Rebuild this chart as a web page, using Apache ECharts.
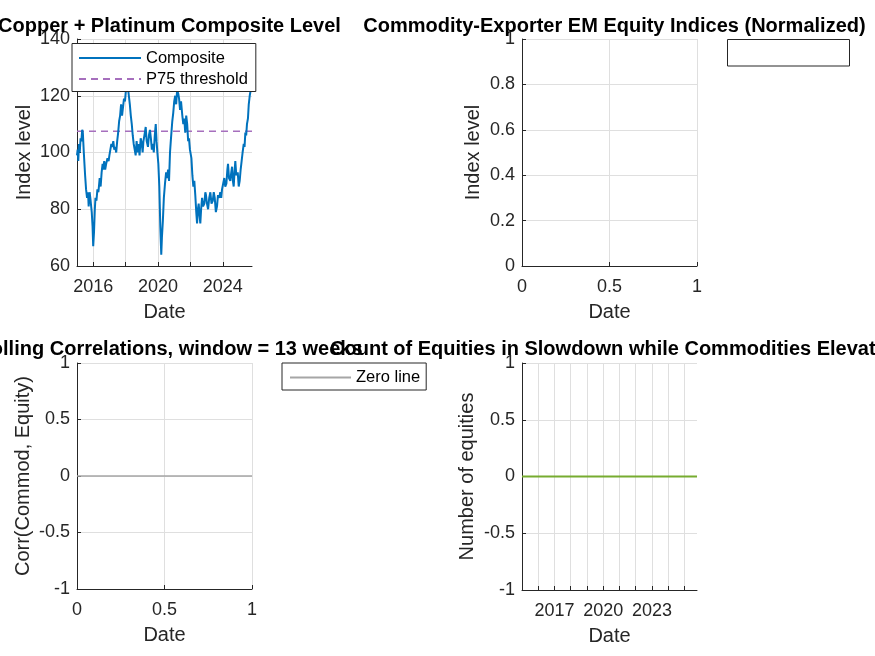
<!DOCTYPE html>
<html>
<head>
<meta charset="utf-8">
<script src="https://cdn.jsdelivr.net/npm/echarts@6.0.0/dist/echarts.min.js"></script>
<style>
  html, body { margin: 0; padding: 0; background: #fff; }
  #chart { width: 875px; height: 656px; }
</style>
</head>
<body>
<div id="chart"></div>
<script>
// composite level (decimal years)
const compYears = [
  2015.00, 2015.04, 2015.08, 2015.12, 2015.17, 2015.22, 2015.27, 2015.32, 2015.36, 2015.42,
  2015.50, 2015.56, 2015.62, 2015.68, 2015.72, 2015.78, 2015.84, 2015.91, 2015.96, 2016.00,
  2016.05, 2016.10, 2016.14, 2016.20, 2016.26, 2016.32, 2016.40, 2016.46, 2016.52, 2016.58,
  2016.62, 2016.68, 2016.74, 2016.80, 2016.88, 2016.95, 2017.00, 2017.06, 2017.12, 2017.18,
  2017.24, 2017.30, 2017.36, 2017.42, 2017.48, 2017.54, 2017.60, 2017.66, 2017.72, 2017.78,
  2017.84, 2017.90, 2017.96, 2018.02, 2018.08, 2018.14, 2018.20, 2018.26, 2018.32, 2018.38,
  2018.44, 2018.50, 2018.56, 2018.62, 2018.68, 2018.74, 2018.80, 2018.86, 2018.93, 2019.00,
  2019.05, 2019.10, 2019.16, 2019.24, 2019.30, 2019.38, 2019.44, 2019.50, 2019.56, 2019.62,
  2019.68, 2019.74, 2019.80, 2019.86, 2019.91, 2019.96, 2020.02, 2020.08, 2020.14, 2020.20,
  2020.24, 2020.30, 2020.36, 2020.43, 2020.50, 2020.56, 2020.62, 2020.68, 2020.74, 2020.80,
  2020.88, 2020.94, 2021.00, 2021.06, 2021.12, 2021.19, 2021.24, 2021.30, 2021.36, 2021.42,
  2021.50, 2021.56, 2021.62, 2021.68, 2021.74, 2021.80, 2021.86, 2021.91, 2021.97, 2022.06,
  2022.12, 2022.18, 2022.24, 2022.30, 2022.36, 2022.41, 2022.46, 2022.51, 2022.56, 2022.61,
  2022.66, 2022.72, 2022.78, 2022.86, 2022.92, 2022.96, 2023.02, 2023.09, 2023.16, 2023.23,
  2023.30, 2023.38, 2023.44, 2023.50, 2023.57, 2023.64, 2023.70, 2023.78, 2023.84, 2023.90,
  2023.95, 2024.02, 2024.09, 2024.15, 2024.22, 2024.28, 2024.32, 2024.38, 2024.46, 2024.52,
  2024.57, 2024.62, 2024.67, 2024.72, 2024.77, 2024.83, 2024.92, 2024.98, 2025.04, 2025.10,
  2025.16, 2025.22, 2025.29, 2025.34, 2025.39, 2025.44, 2025.49, 2025.55, 2025.60, 2025.66,
  2025.72, 2025.80
];
const compValues = [
  99, 101, 97, 103, 100, 105, 104, 108, 107, 100,
  92, 87, 84, 86, 81, 86, 83, 79, 74, 67,
  72, 80, 84, 83, 87, 86, 91, 88, 93, 96,
  94, 97, 94, 96, 98, 97, 99, 101, 103, 102,
  104, 101, 102, 100, 104, 107, 111, 113, 117, 113,
  116, 119, 118, 122, 125, 123, 120, 117, 113, 110,
  106, 103, 101, 99, 104, 100, 103, 99, 105, 103,
  100, 104, 106, 109, 104, 102, 106, 108, 105, 101,
  103, 100, 106, 110, 104, 100, 96, 88, 74, 64,
  70, 76, 84, 89, 93, 91, 94, 90, 100, 105,
  111, 114, 118, 120, 117, 123, 121, 119, 115, 118,
  113, 110, 112, 107, 113, 110, 104, 105, 101, 98,
  92, 88, 90, 85, 79, 75, 80, 82, 78, 75,
  80, 84, 81, 82, 86, 85, 82, 80, 84, 86,
  82, 83, 86, 84, 79, 81, 85, 84, 86, 84,
  87, 89, 91, 88, 89, 94, 96, 91, 90, 93,
  95, 90, 88, 93, 97, 92, 93, 88, 90, 94,
  97, 100, 103, 102, 107, 106, 110, 112, 117, 120,
  122, 126
];
const p75Value = 107.5;

const compTickYears = [2016, 2018, 2020, 2022, 2024];
const compLabelYears = [2016, 2020, 2024];

// rolling correlation panel: only the zero line
const zeroX = [0, 1];
const zeroY = [0, 0];

// count of equities in slowdown (all zero)
const countYears = [2015.0, 2025.77];
const countValues = [0, 0];
const countTickYears = [2016, 2017, 2018, 2019, 2020, 2021, 2022, 2023, 2024, 2025];
const countLabelYears = [2017, 2020, 2023];

const FONT = "'Liberation Sans', Arial, Helvetica, sans-serif";
const AX = '#262626';
const GRID = '#dfdfdf';

function axisBase(extra) {
  return Object.assign({
    axisLine: { show: true, onZero: false, lineStyle: { color: AX, width: 1 } },
    axisTick: { show: true, inside: true, length: 4, lineStyle: { color: AX } },
    splitLine: { show: true, lineStyle: { color: GRID, width: 1 } },
    nameLocation: 'middle',
    nameTextStyle: { fontFamily: FONT, fontSize: 20, color: AX },
  }, extra);
}
function labelStyle(o) {
  return Object.assign({ fontFamily: FONT, fontSize: 18, color: AX }, o);
}
const titleStyle = { fontFamily: FONT, fontSize: 20, fontWeight: 'bold', color: '#000' };

let myChart = echarts.init(document.getElementById('chart'), null, { renderer: 'canvas' });

let option = {
  animation: false,
  backgroundColor: '#fff',
  title: [
    { text: 'Copper + Platinum Composite Level', left: 164.5, top: 11, textAlign: 'center', textStyle: titleStyle },
    { text: 'Commodity-Exporter EM Equity Indices (Normalized)', left: 609.5, top: 11, textAlign: 'center', textStyle: titleStyle },
    { text: 'Rolling Correlations, window = 13 weeks', left: 164.5, top: 334, textAlign: 'center', textStyle: titleStyle },
    { text: 'Count of Equities in Slowdown while Commodities Elevated', left: 609.5, top: 334, textAlign: 'center', textStyle: titleStyle }
  ],
  grid: [
    { left: 77, top: 39, width: 175, height: 227, outerBoundsMode: 'none' },
    { left: 522, top: 39, width: 175, height: 227, outerBoundsMode: 'none' },
    { left: 77, top: 363, width: 175, height: 226, outerBoundsMode: 'none' },
    { left: 522, top: 363, width: 175, height: 227, outerBoundsMode: 'none' }
  ],
  legend: [
    {
      data: ['Composite', 'P75 threshold'],
      orient: 'vertical', left: 72, top: 43.5,
      backgroundColor: '#fff', borderColor: AX, borderWidth: 1,
      padding: [6, 8, 4, 6], itemGap: 4, itemWidth: 62, itemHeight: 17,
      itemStyle: { opacity: 0 },
      textStyle: { fontFamily: FONT, fontSize: 16.5, color: '#000' },
      selectedMode: false, z: 10
    },
    {
      data: ['Zero line'],
      orient: 'vertical', left: 282, top: 363,
      backgroundColor: '#fff', borderColor: AX, borderWidth: 1,
      padding: [6, 6, 4, 7], itemGap: 4, itemWidth: 61, itemHeight: 17,
      itemStyle: { opacity: 0 },
      textStyle: { fontFamily: FONT, fontSize: 16.5, color: '#000' },
      selectedMode: false, z: 10
    }
  ],
  graphic: [
    // empty legend box of the equity panel
    { type: 'rect', shape: { x: 727.5, y: 39.5, width: 122, height: 26.5 },
      style: { fill: '#fff', stroke: AX, lineWidth: 1 }, z: 10 }
  ],
  xAxis: [
    axisBase({
      type: 'value', gridIndex: 0, min: 2015, max: 2025.8,
      axisTick: { show: true, inside: true, length: 4, lineStyle: { color: AX }, customValues: compTickYears },
      axisLabel: labelStyle({ margin: 12, customValues: compLabelYears, formatter: v => String(Math.round(v)) }),
      name: 'Date', nameGap: 36
    }),
    axisBase({
      type: 'value', gridIndex: 1, min: 0, max: 1, interval: 0.5,
      axisLabel: labelStyle({ margin: 12 }),
      name: 'Date', nameGap: 36
    }),
    axisBase({
      type: 'value', gridIndex: 2, min: 0, max: 1, interval: 0.5,
      axisLabel: labelStyle({ margin: 12 }),
      name: 'Date', nameGap: 36
    }),
    axisBase({
      type: 'value', gridIndex: 3, min: 2015, max: 2025.77,
      axisTick: { show: true, inside: true, length: 4, lineStyle: { color: AX }, customValues: countTickYears },
      axisLabel: labelStyle({ margin: 12, customValues: countLabelYears, formatter: v => String(Math.round(v)) }),
      name: 'Date', nameGap: 36
    })
  ],
  yAxis: [
    axisBase({
      type: 'value', gridIndex: 0, min: 60, max: 140, interval: 20,
      axisLabel: labelStyle({ margin: 7 }),
      name: 'Index level', nameGap: 43
    }),
    axisBase({
      type: 'value', gridIndex: 1, min: 0, max: 1, interval: 0.2,
      axisLabel: labelStyle({ margin: 7 }),
      name: 'Index level', nameGap: 39
    }),
    axisBase({
      type: 'value', gridIndex: 2, min: -1, max: 1, interval: 0.5,
      axisLabel: labelStyle({ margin: 7 }),
      name: 'Corr(Commod, Equity)', nameGap: 44
    }),
    axisBase({
      type: 'value', gridIndex: 3, min: -1, max: 1, interval: 0.5,
      axisLabel: labelStyle({ margin: 7 }),
      name: 'Number of equities', nameGap: 45
    })
  ],
  series: [
    {
      name: 'Composite', type: 'line', xAxisIndex: 0, yAxisIndex: 0,
      symbol: 'none', color: '#0072BD',
      lineStyle: { width: 2, color: '#0072BD' },
      data: compYears.map((y, i) => [y, compValues[i]]),
      z: 3
    },
    {
      name: 'P75 threshold', type: 'line', xAxisIndex: 0, yAxisIndex: 0,
      symbol: 'none', color: '#a66fbd',
      lineStyle: { width: 1.5, color: '#a66fbd', type: [7, 5] },
      data: [[compYears[0], p75Value], [compYears[compYears.length - 1], p75Value]],
      z: 2
    },
    {
      name: 'Zero line', type: 'line', xAxisIndex: 2, yAxisIndex: 2,
      symbol: 'none', color: '#a6a6a6',
      lineStyle: { width: 1.5, color: '#a6a6a6' },
      data: zeroX.map((x, i) => [x, zeroY[i]])
    },
    {
      name: 'Count', type: 'line', xAxisIndex: 3, yAxisIndex: 3,
      symbol: 'none', color: '#77AC30',
      lineStyle: { width: 2, color: '#77AC30' },
      data: countYears.map((x, i) => [x, countValues[i]])
    }
  ]
};

myChart.setOption(option);
</script>
</body>
</html>
